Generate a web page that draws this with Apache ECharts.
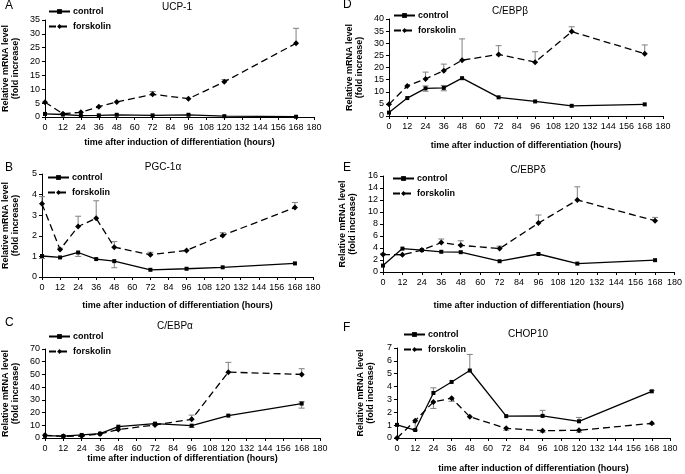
<!DOCTYPE html>
<html>
<head>
<meta charset="utf-8">
<script src="https://cdn.jsdelivr.net/npm/echarts@6/dist/echarts.min.js"></script>
<style>
html,body{margin:0;padding:0;background:#fff;}
#chart{width:685px;height:474px;}
</style>
</head>
<body>
<div id="chart"></div>
<script>
// ---------- DATA ----------
const hours = [0, 12, 24, 36, 48, 72, 96, 120, 168];
const seriesNames = ['control', 'forskolin'];
const xTickInterval = 12;
const xMax = 180;

// A: UCP-1
const ucp1Control = [1.1, 0.9, 0.5, 0.6, 0.8, 0.6, 0.8, 0.3, 0.1];
const ucp1Forskolin = [5.3, 1.2, 1.7, 3.7, 5.4, 8.2, 6.6, 12.7, 26.6];
const ucp1ForskolinErrHi = [null, null, null, null, null, 9.2, null, 13.5, 32.0];

// B: PGC-1α
const pgcControl = [1.02, 0.95, 1.19, 0.87, 0.77, 0.35, 0.40, 0.47, 0.66];
const pgcControlErrLo = [0.9, null, 1.0, null, 0.45, null, null, null, null];
const pgcForskolin = [3.55, 1.33, 2.45, 2.85, 1.45, 1.08, 1.29, 2.02, 3.37];
const pgcForskolinErrHi = [3.9, 1.4, 2.95, 3.7, 1.72, 1.2, null, 2.15, 3.62];

// C: C/EBPα
const cebpaControl = [1.8, 1.5, 2.4, 3.4, 8.9, 11.3, 9.7, 17.6, 27.1];
const cebpaControlErrLo = [null, null, null, null, null, null, 8.3, null, 23.5];
const cebpaControlErrHi = [null, null, null, null, null, null, null, null, 28.5];
const cebpaForskolin = [2.1, 1.3, 1.6, 3.2, 6.6, 10.3, 14.7, 51.8, 50.0];
const cebpaForskolinErrHi = [null, null, null, null, null, 11.5, 18.0, 59.5, 54.5];

// D: C/EBPβ
const cebpbControl = [1.4, 7.4, 11.4, 11.6, 15.6, 7.7, 6.0, 4.2, 4.8];
const cebpbControlErrLo = [null, null, 10.2, 10.4, null, null, null, null, null];
const cebpbControlErrHi = [null, null, 12.4, 12.6, null, null, null, null, null];
const cebpbForskolin = [4.8, 12.4, 15.3, 18.7, 23.0, 25.4, 22.2, 34.8, 25.7];
const cebpbForskolinErrHi = [null, null, 18.1, 21.4, 31.8, 29.0, 26.5, 36.8, 29.3];

// E: C/EBPδ
const cebpdControl = [1.07, 3.9, 3.65, 3.37, 3.3, 1.8, 3.0, 1.4, 1.97];
const cebpdForskolin = [2.9, 2.87, 3.65, 4.9, 4.45, 3.9, 8.15, 12.0, 8.55];
const cebpdForskolinErrHi = [3.1, null, null, 5.5, 5.2, 4.3, 9.5, 14.2, 9.1];

// F: CHOP10
const chopControl = [1.02, 0.62, 3.5, 4.36, 5.25, 1.7, 1.72, 1.3, 3.63];
const chopControlErrHi = [null, null, 3.9, null, 6.5, null, 2.15, 1.6, 3.7];
const chopForskolin = [0.0, 1.35, 2.8, 3.1, 1.65, 0.75, 0.57, 0.6, 1.14];
const chopForskolinErrLo = [null, 0.6, 2.3, 2.85, null, 0.6, 0.45, 0.45, 1.05];

// y-axis ranges per panel
const yMaxA = 35, yIntA = 5;
const yMaxB = 5, yIntB = 1;
const yMaxC = 70, yIntC = 10;
const yMaxD = 40, yIntD = 5;
const yMaxE = 16, yIntE = 2;
const yMaxF = 7, yIntF = 1;

const titles = ['UCP-1', 'PGC-1α', 'C/EBPα', 'C/EBPβ', 'C/EBPδ', 'CHOP10'];
const letters = ['A', 'B', 'C', 'D', 'E', 'F'];
const yAxisName = 'Relative mRNA level\n(fold increase)';
const xAxisName = 'time after induction of differentiation (hours)';

// ---------- LAYOUT ----------
const FONT = '"Liberation Sans", Arial, sans-serif';
const panels = [
  { grid: {left: 42, top: 20, width: 272, height: 97}, yMax: yMaxA, yInt: yIntA, yGap: 24, xGap: 21,
    title: [177, 7], letter: [5, 6], legend: [48, 7],
    ctrl: ucp1Control, fsk: ucp1Forskolin, ctrlLo: null, ctrlHi: null, fskLo: null, fskHi: ucp1ForskolinErrHi },
  { grid: {left: 38, top: 174, width: 275, height: 103}, yMax: yMaxB, yInt: yIntB, yGap: 21, xGap: 24,
    title: [163, 167], letter: [5, 168], legend: [47, 173],
    ctrl: pgcControl, fsk: pgcForskolin, ctrlLo: pgcControlErrLo, ctrlHi: null, fskLo: null, fskHi: pgcForskolinErrHi },
  { grid: {left: 42, top: 349, width: 278, height: 89}, yMax: yMaxC, yInt: yIntC, yGap: 24, xGap: 15,
    title: [175, 326], letter: [5, 323], legend: [48, 332],
    ctrl: cebpaControl, fsk: cebpaForskolin, ctrlLo: cebpaControlErrLo, ctrlHi: cebpaControlErrHi, fskLo: null, fskHi: cebpaForskolinErrHi },
  { grid: {left: 389, top: 19, width: 274, height: 97}, yMax: yMaxD, yInt: yIntD, yGap: 24, xGap: 25,
    title: [510, 11], letter: [343, 5], legend: [393, 11],
    ctrl: cebpbControl, fsk: cebpbForskolin, ctrlLo: cebpbControlErrLo, ctrlHi: cebpbControlErrHi, fskLo: null, fskHi: cebpbForskolinErrHi },
  { grid: {left: 383, top: 176, width: 294, height: 96}, yMax: yMaxE, yInt: yIntE, yGap: 25, xGap: 29,
    title: [528, 170], letter: [343, 168], legend: [392, 174],
    ctrl: cebpdControl, fsk: cebpdForskolin, ctrlLo: null, ctrlHi: null, fskLo: null, fskHi: cebpdForskolinErrHi },
  { grid: {left: 397, top: 348, width: 273, height: 90}, yMax: yMaxF, yInt: yIntF, yGap: 21, xGap: 26,
    title: [528, 334], letter: [343, 328], legend: [403, 330],
    ctrl: chopControl, fsk: chopForskolin, ctrlLo: null, ctrlHi: chopControlErrHi, fskLo: chopForskolinErrLo, fskHi: null }
];

function pairs(vals) { return hours.map((h, i) => [h, vals[i]]); }
function errData(vals, lo, hi) {
  const out = [];
  hours.forEach((h, i) => {
    const l = lo && lo[i] != null ? lo[i] : vals[i];
    const u = hi && hi[i] != null ? hi[i] : vals[i];
    if (l !== vals[i] || u !== vals[i]) out.push([h, vals[i], l, u]);
  });
  return out;
}
function errRender(params, api) {
  const x = api.value(0), y = api.value(1), lo = api.value(2), hi = api.value(3);
  const pLo = api.coord([x, lo]);
  const pHi = api.coord([x, hi]);
  const st = {stroke: '#808080', lineWidth: 1};
  const children = [{ type: 'line', shape: {x1: pLo[0], y1: pLo[1], x2: pHi[0], y2: pHi[1]}, style: st }];
  if (hi > y) children.push({ type: 'line', shape: {x1: pHi[0] - 3, y1: pHi[1], x2: pHi[0] + 3, y2: pHi[1]}, style: st });
  if (lo < y) children.push({ type: 'line', shape: {x1: pLo[0] - 3, y1: pLo[1], x2: pLo[0] + 3, y2: pLo[1]}, style: st });
  return { type: 'group', children };
}

const grids = [], xAxes = [], yAxes = [], series = [], legends = [], graphics = [];
panels.forEach((p, k) => {
  grids.push(Object.assign({containLabel: false}, p.grid));
  xAxes.push({
    type: 'value', gridIndex: k, min: 0, max: xMax, interval: xTickInterval,
    name: xAxisName, nameLocation: 'middle', nameGap: p.xGap,
    nameTextStyle: {fontFamily: FONT, fontWeight: 'bold', fontSize: 9, color: '#000'},
    axisLine: {lineStyle: {color: '#000', width: 1}},
    axisTick: {length: 3, lineStyle: {color: '#000'}},
    axisLabel: {fontFamily: FONT, fontSize: 9, color: '#000', margin: 6},
    splitLine: {show: false}
  });
  yAxes.push({
    type: 'value', gridIndex: k, min: 0, max: p.yMax, interval: p.yInt,
    name: yAxisName, nameLocation: 'middle', nameGap: p.yGap, nameRotate: 90,
    nameTextStyle: {fontFamily: FONT, fontWeight: 'bold', fontSize: 9, color: '#000', lineHeight: 10},
    axisLine: {show: true, lineStyle: {color: '#000', width: 1}},
    axisTick: {show: true, length: 3, lineStyle: {color: '#000'}},
    axisLabel: {fontFamily: FONT, fontSize: 9, color: '#000', margin: 5},
    splitLine: {show: false}
  });
  series.push({
    type: 'custom', name: 'err-c' + k, xAxisIndex: k, yAxisIndex: k, z: 1,
    renderItem: errRender, data: errData(p.ctrl, p.ctrlLo, p.ctrlHi), silent: true
  });
  series.push({
    type: 'custom', name: 'err-f' + k, xAxisIndex: k, yAxisIndex: k, z: 1,
    renderItem: errRender, data: errData(p.fsk, p.fskLo, p.fskHi), silent: true
  });
  series.push({
    type: 'line', name: 'control', xAxisIndex: k, yAxisIndex: k, z: 3,
    data: pairs(p.ctrl), symbol: 'rect', symbolSize: 4, showSymbol: true,
    lineStyle: {color: '#000', width: 1.3, type: 'solid'},
    itemStyle: {color: '#000'}, animation: false
  });
  series.push({
    type: 'line', name: 'forskolin', xAxisIndex: k, yAxisIndex: k, z: 3,
    data: pairs(p.fsk), symbol: 'diamond', symbolSize: 6, showSymbol: true,
    lineStyle: {color: '#000', width: 1.3, type: [7, 4]},
    itemStyle: {color: '#000'}, animation: false
  });
  legends.push({
    orient: 'vertical', left: p.legend[0], top: p.legend[1],
    data: seriesNames, itemWidth: 21, itemHeight: 6, itemGap: 6, padding: 0,
    selectedMode: false,
    textStyle: {fontFamily: FONT, fontWeight: 'bold', fontSize: 9, color: '#000', padding: [0, 0, 0, -2]}
  });
  graphics.push({
    type: 'text', x: p.title[0], y: p.title[1],
    style: {text: titles[k], font: '10px ' + FONT, fill: '#000', textAlign: 'center', textVerticalAlign: 'middle'}
  });
  graphics.push({
    type: 'text', x: p.letter[0], y: p.letter[1],
    style: {text: letters[k], font: '12px ' + FONT, fill: '#000', textVerticalAlign: 'middle'}
  });
});

const chart = echarts.init(document.getElementById('chart'), null, {renderer: 'canvas'});
chart.setOption({
  animation: false,
  backgroundColor: '#fff',
  grid: grids, xAxis: xAxes, yAxis: yAxes, series: series, legend: legends,
  graphic: graphics
});
</script>
</body>
</html>
